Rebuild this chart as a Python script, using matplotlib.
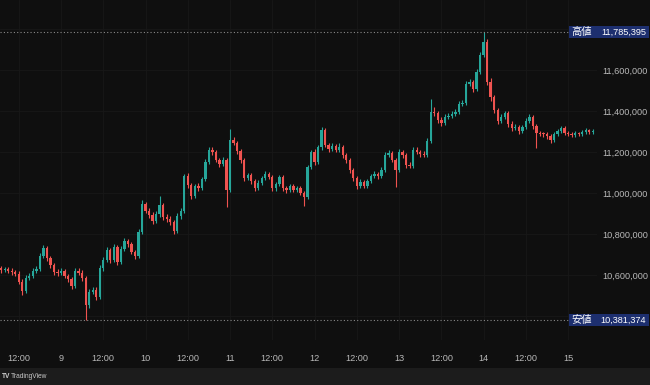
import matplotlib
matplotlib.use('Agg')
import matplotlib.pyplot as plt
from matplotlib.patches import Rectangle
from matplotlib.ticker import FixedLocator, FuncFormatter

# ---------------- data (hourly candles, prices in thousand JPY) ----------------
first_hour = 6            # hours since the 8th 00:00 of the first visible bar
opens_k = [
    10640, 10634, 10624, 10629, 10620, 10615, 10605, 10566, 10522, 10585,
    10595, 10620, 10629, 10693, 10732, 10683, 10649, 10615, 10612, 10620,
    10595, 10580, 10546, 10620, 10610, 10585, 10454, 10517, 10527, 10493,
    10634, 10673, 10722, 10673, 10737, 10663, 10727, 10766, 10751, 10712,
    10693, 10810, 10946, 10912, 10893, 10863, 10898, 10941, 10883, 10873,
    10859, 10815, 10888, 10912, 11083, 11039, 10985, 11034, 11024, 11068,
    11151, 11210, 11200, 11161, 11141, 11161, 11015, 11259, 11244, 11205,
    11161, 11073, 11088, 11059, 11024, 11049, 11073, 11093, 11078, 11024,
    11044, 11078, 11024, 11015, 11034, 11015, 11024, 11000, 10980, 11127,
    11200, 11151, 11224, 11307, 11234, 11215, 11229, 11210, 11224, 11185,
    11161, 11112, 11073, 11034, 11054, 11034, 11059, 11083, 11093, 11083,
    11112, 11185, 11195, 11161, 11112, 11200, 11185, 11137, 11132, 11210,
    11200, 11190, 11185, 11254, 11395, 11390, 11356, 11341, 11371, 11376,
    11385, 11395, 11434, 11439, 11532, 11541, 11507, 11590, 11673, 11737,
    11541, 11468, 11405, 11351, 11371, 11390, 11337, 11317, 11322, 11302,
    11322, 11351, 11371, 11327, 11293, 11290, 11288, 11278, 11259, 11288,
    11302, 11317, 11293, 11288, 11283, 11293, 11288, 11298, 11307, 11298,
]
closes_k = [
    10634, 10624, 10629, 10620, 10615, 10605, 10566, 10522, 10585, 10595,
    10620, 10629, 10693, 10732, 10683, 10649, 10615, 10612, 10620, 10595,
    10580, 10546, 10620, 10610, 10585, 10454, 10517, 10527, 10493, 10634,
    10673, 10722, 10673, 10737, 10663, 10727, 10766, 10751, 10712, 10693,
    10810, 10946, 10912, 10893, 10863, 10898, 10941, 10883, 10873, 10859,
    10815, 10888, 10912, 11083, 11039, 10985, 11034, 11024, 11068, 11151,
    11210, 11200, 11161, 11141, 11161, 11015, 11259, 11244, 11205, 11161,
    11073, 11088, 11059, 11024, 11049, 11073, 11093, 11078, 11024, 11044,
    11078, 11024, 11015, 11034, 11015, 11024, 11000, 10980, 11127, 11200,
    11151, 11224, 11307, 11234, 11215, 11229, 11210, 11224, 11185, 11161,
    11112, 11073, 11034, 11054, 11034, 11059, 11083, 11093, 11083, 11112,
    11185, 11195, 11161, 11112, 11200, 11185, 11137, 11132, 11210, 11200,
    11190, 11185, 11254, 11395, 11390, 11356, 11341, 11371, 11376, 11385,
    11395, 11434, 11439, 11532, 11541, 11507, 11590, 11673, 11737, 11541,
    11468, 11405, 11351, 11371, 11390, 11337, 11317, 11322, 11302, 11322,
    11351, 11371, 11327, 11293, 11290, 11288, 11278, 11259, 11288, 11302,
    11317, 11293, 11288, 11283, 11293, 11288, 11298, 11307, 11298, 11302,
]
highs_k = [
    10652, 10645, 10640, 10638, 10632, 10626, 10618, 10580, 10598, 10610,
    10632, 10645, 10705, 10748, 10740, 10695, 10660, 10630, 10634, 10628,
    10605, 10590, 10632, 10634, 10622, 10596, 10530, 10541, 10540, 10648,
    10688, 10735, 10733, 10752, 10748, 10740, 10780, 10778, 10762, 10722,
    10825, 10968, 10958, 10925, 10905, 10910, 10985, 10952, 10896, 10886,
    10870, 10900, 10925, 11095, 11096, 11050, 11046, 11050, 11080, 11165,
    11225, 11222, 11212, 11170, 11175, 11172, 11310, 11275, 11255, 11215,
    11170, 11100, 11098, 11068, 11062, 11085, 11105, 11104, 11088, 11056,
    11090, 11086, 11035, 11046, 11043, 11036, 11032, 11010, 11138, 11212,
    11213, 11236, 11322, 11316, 11246, 11242, 11240, 11245, 11234, 11196,
    11170, 11122, 11082, 11066, 11064, 11070, 11095, 11106, 11104, 11125,
    11198, 11212, 11206, 11172, 11214, 11212, 11196, 11150, 11222, 11224,
    11212, 11203, 11266, 11460, 11420, 11402, 11370, 11385, 11390, 11398,
    11410, 11448, 11455, 11546, 11558, 11552, 11604, 11690, 11785.395, 11750,
    11560, 11480, 11415, 11384, 11402, 11398, 11350, 11336, 11332, 11334,
    11364, 11386, 11380, 11336, 11302, 11300, 11298, 11286, 11298, 11312,
    11328, 11325, 11302, 11296, 11302, 11300, 11307, 11316, 11314, 11310,
]
lows_k = [
    10622, 10612, 10615, 10608, 10600, 10595, 10555, 10500, 10512, 10574,
    10585, 10610, 10620, 10682, 10670, 10635, 10602, 10596, 10600, 10585,
    10568, 10532, 10538, 10598, 10570, 10381.374, 10440, 10505, 10480, 10485,
    10620, 10662, 10660, 10665, 10650, 10655, 10715, 10738, 10700, 10680,
    10685, 10800, 10900, 10880, 10850, 10852, 10885, 10870, 10860, 10845,
    10800, 10805, 10875, 10900, 11025, 10970, 10975, 11010, 11015, 11058,
    11140, 11186, 11150, 11128, 11130, 10930, 11005, 11232, 11190, 11148,
    11060, 11062, 11045, 11010, 11015, 11038, 11062, 11066, 11010, 11012,
    11032, 11012, 11002, 11004, 11003, 11005, 10988, 10935, 10970, 11115,
    11138, 11140, 11212, 11222, 11202, 11205, 11198, 11200, 11172, 11148,
    11100, 11060, 11020, 11024, 11022, 11025, 11048, 11072, 11070, 11074,
    11102, 11174, 11150, 11030, 11102, 11172, 11124, 11120, 11124, 11188,
    11178, 11174, 11176, 11245, 11376, 11342, 11328, 11332, 11360, 11366,
    11374, 11386, 11422, 11430, 11520, 11494, 11498, 11580, 11662, 11525,
    11450, 11390, 11336, 11340, 11360, 11324, 11304, 11306, 11290, 11292,
    11312, 11340, 11314, 11220, 11276, 11275, 11262, 11245, 11248, 11278,
    11292, 11282, 11276, 11272, 11274, 11277, 11278, 11289, 11288, 11290,
]
x_tick_hours = [12, 24, 36, 48, 60, 72, 84, 96, 108, 120, 132, 144, 156, 168]
x_tick_labels = ['12:00', '9', '12:00', '10', '12:00', '11', '12:00', '12',
                 '12:00', '13', '12:00', '14', '12:00', '15']
y_ticks_k = [10400, 10600, 10800, 11000, 11200, 11400, 11600, 11800]
# the outermost tick labels sit behind the high/low tags in the reference
y_hidden_k = [10400, 11800]
high_tag, high_value = '高値', 11785.395
low_tag, low_value = '安値', 10381.374

# ---------------- style ----------------
BG = '#0f0f0f'
UP = '#26a69a'
DOWN = '#ef5350'
TXT = '#b8b8b8'
TAG_BG = '#1d2f6f'
FAM = ['Liberation Sans', 'Noto Sans CJK JP', 'DejaVu Sans']
plt.rcParams['font.family'] = FAM

W, H = 650, 385
fig = plt.figure(figsize=(W / 100, H / 100), dpi=100, facecolor=BG)
pane_right = 597
pane_bottom = 340
ax = fig.add_axes([0, 1 - pane_bottom / H, pane_right / W, pane_bottom / H])
ax.set_facecolor(BG)

hours = list(range(first_hour, first_hour + len(closes_k)))
colors = [UP if c >= o else DOWN for o, c in zip(opens_k, closes_k)]

ax.vlines(hours, lows_k, highs_k, colors=colors, linewidth=0.8, zorder=3)
bodies = [c - o if abs(c - o) > 2 else 3 for o, c in zip(opens_k, closes_k)]
ax.bar(hours, bodies, bottom=opens_k, width=0.66, color=colors,
       linewidth=0, zorder=4)

ax.set_xlim(6.67, 176.2)
ax.set_ylim(10282.9, 11941.5)

ax.xaxis.set_major_locator(FixedLocator(x_tick_hours))
ax.set_xticklabels(x_tick_labels)
ax.yaxis.set_major_locator(FixedLocator(y_ticks_k))
ax.yaxis.set_major_formatter(FuncFormatter(
    lambda v, p: '' if round(v) in y_hidden_k else f'{int(round(v * 1000)):,}'))
ax.yaxis.tick_right()
ax.tick_params(axis='y', length=0, pad=4, labelsize=6.6, labelcolor=TXT)
ax.tick_params(axis='x', length=0, pad=10, labelsize=6.6, labelcolor=TXT)
for lbl in ax.get_yticklabels():
    lbl.set_clip_on(False)
ax.grid(True, color='#181818', linewidth=0.6, zorder=0)
for s in ax.spines.values():
    s.set_visible(False)

# high / low dotted lines and tags
tag_left = 569
for tag, val in [(high_tag, high_value), (low_tag, low_value)]:
    ax.axhline(val, xmin=0, xmax=tag_left / pane_right, color='#8a8a8a',
               linewidth=0.8, linestyle=(0, (1, 2)), zorder=5)
    yfig = fig.transFigure.inverted().transform(
        ax.transData.transform((10, val)))[1]
    box_h = 12.5 / H
    fig.add_artist(Rectangle((tag_left / W, yfig - box_h / 2), (649 - tag_left) / W, box_h,
                             transform=fig.transFigure, facecolor=TAG_BG,
                             edgecolor='none', zorder=10))
    fig.text(571 / W, yfig, tag, color='white', fontsize=7.4, va='center',
             ha='left', family=['Noto Sans CJK JP', 'DejaVu Sans'], zorder=11)
    fig.text(646 / W, yfig, f'{int(round(val * 1000)):,}', color='white',
             fontsize=6.6, va='center', ha='right', zorder=11)

# bottom TradingView strip
fig.add_artist(Rectangle((0, 0), 1, 17 / H, transform=fig.transFigure,
                         facecolor='#1c1c1c', edgecolor='none', zorder=1))
fig.text(2 / W, 8 / H, 'TV', color='#d0d0d0', fontsize=4.8, fontweight='bold',
         va='center', ha='left')
fig.text(11 / W, 8 / H, 'TradingView', color='#c8c8c8', fontsize=4.8,
         va='center', ha='left')

fig.savefig('out.png', dpi=100, facecolor=BG)
